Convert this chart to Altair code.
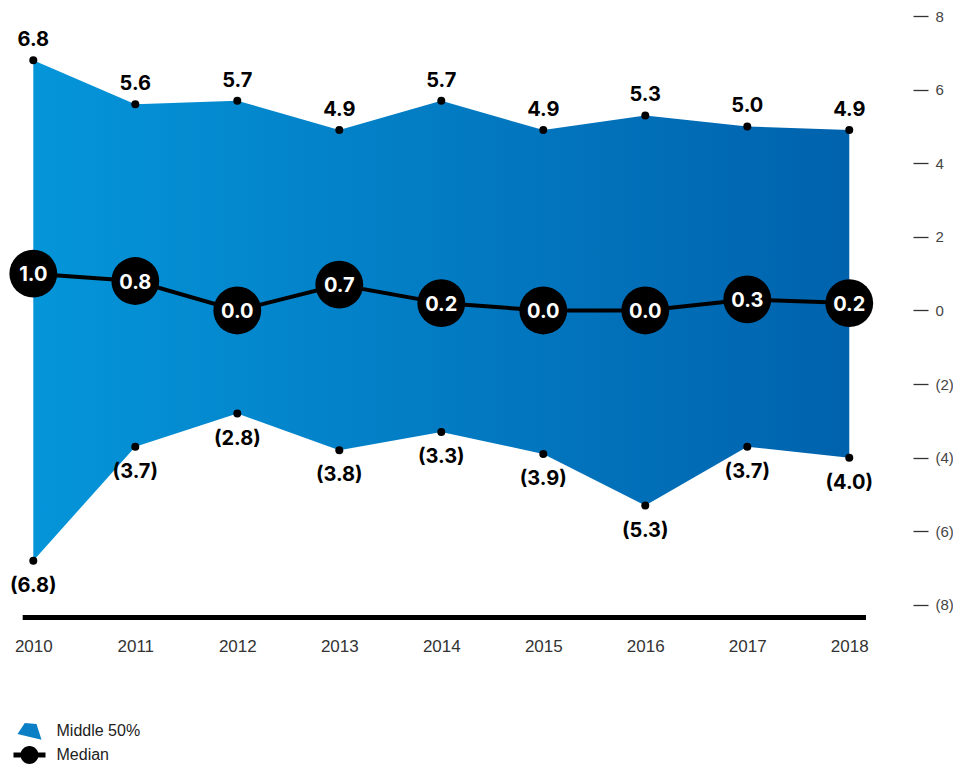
import altair as alt
import pandas as pd

# ---- data ----
years = [2010, 2011, 2012, 2013, 2014, 2015, 2016, 2017, 2018]
upper = [6.8, 5.6, 5.7, 4.9, 5.7, 4.9, 5.3, 5.0, 4.9]
lower = [-6.8, -3.7, -2.8, -3.8, -3.3, -3.9, -5.3, -3.7, -4.0]
median = [1.0, 0.8, 0.0, 0.7, 0.2, 0.0, 0.0, 0.3, 0.2]
y_ticks = [-8, -6, -4, -2, 0, 2, 4, 6, 8]
legend_names = ["Middle 50%", "Median"]
baseline_x = [2009.896, 2018.164]
baseline_y = [-8.34, -8.34]

df = pd.DataFrame({"year": years, "upper": upper, "lower": lower, "median": median})
df["upper_label"] = [f"{v:.1f}" for v in upper]
df["lower_label"] = [f"({abs(v):.1f})" for v in lower]
df["median_label"] = [f"{v:.1f}" for v in median]

base_df = pd.DataFrame({"year": [baseline_x[0]], "year2": [baseline_x[1]], "v": [baseline_y[0]]})
legend_df = pd.DataFrame({"series": legend_names, "year": [None, None], "v": [None, None]})

W, H = 909, 611
xscale = alt.Scale(domain=[2009.752, 2018.664], nice=False, zero=False)
yscale = alt.Scale(domain=[-8.6, 8.0], nice=False, zero=False)

x_axis = alt.Axis(values=years, format="d", labelFontSize=17, labelFont="Liberation Sans",
                  labelColor="#333333", labelPadding=11, domain=False, ticks=False,
                  grid=False, title=None, labelFlush=False)
y_axis = alt.Axis(orient="right", values=y_ticks, offset=-4,
                  labelExpr="datum.value < 0 ? '(' + abs(datum.value) + ')' : '' + datum.value",
                  tickSize=15, tickColor="#333333", tickWidth=1.3, labelPadding=7,
                  domain=False, grid=False, title=None, labelFontSize=15,
                  labelFont="Liberation Sans", labelColor="#444444", labelFlush=False)

X = alt.X("year:Q", scale=xscale, axis=x_axis)

def Y(field):
    return alt.Y(field, type="quantitative", scale=yscale, axis=y_axis)

LABEL_FONT = "Inter"
LABEL_SIZE = 20

base = alt.Chart(df)

area = base.mark_area(
    color=alt.Gradient(
        gradient="linear",
        stops=[alt.GradientStop(color="#0595d9", offset=0),
               alt.GradientStop(color="#0062ad", offset=1)],
        x1=0, x2=1, y1=0, y2=0),
    opacity=1,
).encode(x=X, y=Y("upper"), y2="lower:Q")

baseline = alt.Chart(base_df).mark_rule(color="black", strokeWidth=5).encode(
    x=X, x2="year2:Q", y=Y("v"))

med_line = base.mark_line(color="black", strokeWidth=4).encode(x=X, y=Y("median"))
med_dots = base.mark_circle(color="black", size=2290, opacity=1).encode(x=X, y=Y("median"))
med_text = base.mark_text(font=LABEL_FONT, fontWeight="bold", fontSize=LABEL_SIZE, color="white",
                          baseline="alphabetic", dy=7.5).encode(x=X, y=Y("median"), text="median_label:N")

up_dots = base.mark_circle(color="black", size=64, opacity=1).encode(x=X, y=Y("upper"))
lo_dots = base.mark_circle(color="black", size=64, opacity=1).encode(x=X, y=Y("lower"))
up_text = base.mark_text(font=LABEL_FONT, fontWeight="bold", fontSize=LABEL_SIZE, color="black",
                         baseline="alphabetic", dy=-14).encode(x=X, y=Y("upper"), text="upper_label:N")
lo_text = base.mark_text(font=LABEL_FONT, fontWeight="bold", fontSize=LABEL_SIZE, color="black",
                         baseline="alphabetic", dy=31).encode(x=X, y=Y("lower"), text="lower_label:N")

trap = "M-0.47,-0.8 L0.7,-0.7 L1.2,0.87 L-1.2,0.3 Z"
med_sym = "M-1.6,-0.25 L1.6,-0.25 L1.6,0.25 L-1.6,0.25 Z M-0.9,0 A0.9,0.9 0 1,1 0.9,0 A0.9,0.9 0 1,1 -0.9,0 Z"
leg = alt.Legend(orient="none", legendX=11.5, legendY=705, title=None, symbolSize=400,
                 labelFontSize=16, labelFont="Liberation Sans", labelColor="#222222",
                 labelOffset=17, rowPadding=5, padding=0, symbolStrokeWidth=0,
                 symbolOpacity=1)
legend_layer = alt.Chart(legend_df).mark_point(filled=True, opacity=1).encode(
    x=X, y=Y("v"),
    color=alt.Color("series:N", scale=alt.Scale(domain=legend_names, range=["#0a7fc6", "#000000"]), legend=leg),
    shape=alt.Shape("series:N", scale=alt.Scale(domain=legend_names, range=[trap, med_sym]), legend=leg),
)

chart = alt.layer(area, baseline, med_line, med_dots, med_text, up_dots, lo_dots,
                  up_text, lo_text, legend_layer).properties(
    width=W, height=H,
    autosize=alt.AutoSizeParams(type="none"),
    padding={"left": 0, "top": 8, "right": 36, "bottom": 139},
).configure_view(stroke=None)

chart.save("out.html", embed_options={"renderer": "svg", "actions": False})
